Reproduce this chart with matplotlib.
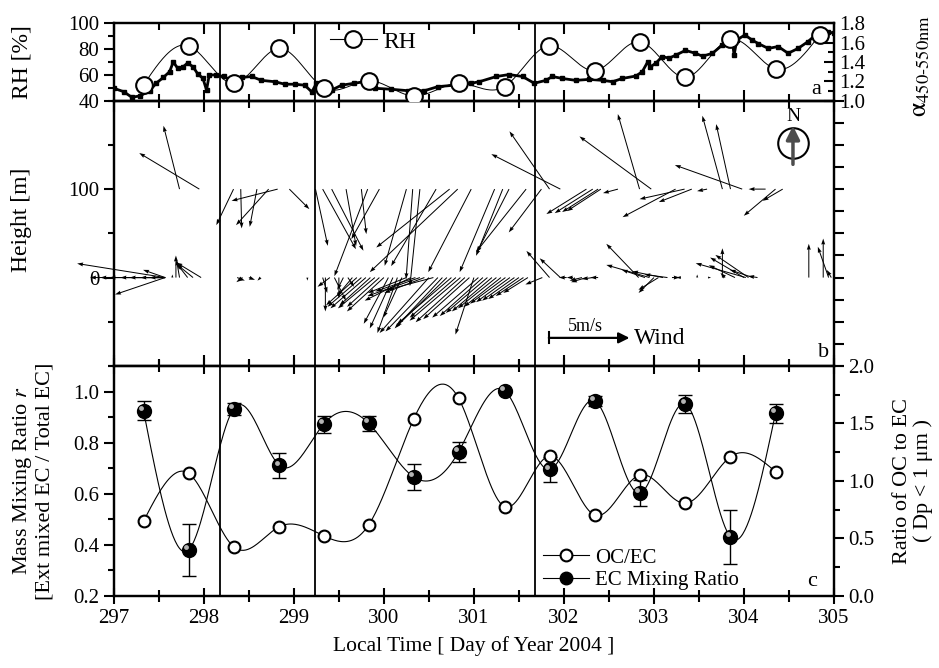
import numpy as np
import matplotlib
matplotlib.use('Agg')
import matplotlib.pyplot as plt
import matplotlib.transforms as mtransforms
from matplotlib.lines import Line2D
from matplotlib.ticker import MultipleLocator

plt.rcParams['font.family'] = ['Liberation Serif', 'DejaVu Serif']
plt.rcParams['mathtext.fontset'] = 'stix'
plt.rcParams['font.size'] = 15

# panel a: RH (circles) and Angstrom exponent (dotted trace)
rh_t = [297.33, 297.83, 298.33, 298.84, 299.33, 299.83, 300.33, 300.83,
        301.34, 301.83, 302.34, 302.84, 303.35, 303.85, 304.35, 304.84]
rh_v = [52.2, 82.6, 53.5, 80.6, 50.1, 55.5, 43.6, 53.5,
        50.9, 82.6, 63.3, 85.7, 58.1, 87.6, 64.6, 90.9]

alpha_t = [297.0, 297.11, 297.2, 297.29, 297.4, 297.47, 297.55, 297.62, 297.66, 297.71,
           297.77, 297.82, 297.88, 297.93, 297.99, 298.03, 298.06, 298.13, 298.22, 298.31,
           298.42, 298.53, 298.64, 298.79, 298.9, 299.01, 299.12, 299.2, 299.25, 299.34,
           299.42, 299.53, 299.67, 299.78, 299.86, 299.9, 300.08, 300.27, 300.45, 300.6,
           300.78, 300.97, 301.06, 301.25, 301.39, 301.54, 301.67, 301.8, 301.87, 301.98,
           302.13, 302.28, 302.43, 302.54, 302.65, 302.8, 302.87, 302.93, 302.96, 303.02,
           303.09, 303.17, 303.24, 303.35, 303.46, 303.54, 303.65, 303.76, 303.87, 303.89,
           303.92, 304.01, 304.09, 304.16, 304.27, 304.38, 304.49, 304.6, 304.71, 304.82,
           304.93, 305.0]
alpha_v = [1.128, 1.093, 1.035, 1.049, 1.103, 1.18, 1.24, 1.30, 1.40, 1.335,
           1.35, 1.39, 1.35, 1.28, 1.23, 1.11, 1.266, 1.266, 1.25, 1.21,
           1.24, 1.25, 1.21, 1.196, 1.17, 1.17, 1.16, 1.09, 1.18, 1.15,
           1.11, 1.16, 1.18, 1.196, 1.17, 1.128, 1.118, 1.103, 1.103, 1.145,
           1.16, 1.18, 1.196, 1.25, 1.27, 1.25, 1.18, 1.21, 1.25, 1.23,
           1.21, 1.22, 1.21, 1.196, 1.23, 1.255, 1.30, 1.40, 1.35, 1.387,
           1.455, 1.44, 1.47, 1.52, 1.49, 1.46, 1.49, 1.576, 1.627, 1.47,
           1.627, 1.68, 1.627, 1.59, 1.54, 1.56, 1.49, 1.54, 1.61, 1.70,
           1.71, 1.70]

# panel b: wind vectors (m/s) at 100 m and at the surface
z100_t = [297.73, 297.95, 298.33, 298.41, 298.59, 298.72, 298.82, 298.95,
          299.24, 299.32, 299.42, 299.58, 299.75, 299.82, 299.95, 300.25, 300.32,
          300.40, 300.58, 300.73, 300.82, 300.97, 301.23, 301.32, 301.39, 301.58,
          301.75, 301.84, 301.96, 302.25, 302.32, 302.38, 302.41, 302.60, 302.84,
          302.97, 303.24, 303.34, 303.42, 303.59, 303.76, 303.85, 303.98, 304.24,
          304.35, 304.43]
z100_u = [-1.04, -3.9, -1.12, 0.06, -0.47, -2.12, -2.99, 1.3,
          0.8, 2.16, 2.06, 0.65, 0.32, -2.16, -1.82, -1.41, -0.43,
          -0.65, -2.92, -4.76, -5.71, -2.79, -2.27, -1.73, -2.08, -3.25,
          -2.12, -2.6, -4.48, -2.6, -2.47, -2.34, -2.2, -0.97, -1.41,
          -4.66, -3.44, -2.92, -2.14, -0.65, -1.3, -0.93, -4.37, -1.1,
          -2.06, -1.3]
z100_v = [4.11, 2.34, -2.34, -2.55, -2.45, -2.34, -0.76, -1.3,
          -3.68, -3.9, -4.0, -3.7, -2.92, -5.65, -3.25, -4.98, -5.84,
          -6.3, -5.0, -3.79, -5.39, -5.39, -5.39, -4.33, -4.09, -4.09,
          -2.81, 3.75, 2.27, -1.62, -1.56, -1.49, -1.43, -0.26, 4.87,
          3.42, -1.82, -0.65, -0.84, -0.13, 4.76, 4.22, 1.56, 0.0,
          -1.73, -0.76]

z0_t = [297.57, 297.57, 297.57, 297.57, 297.57, 297.57, 297.57, 297.57, 297.57, 297.57,
        297.65, 297.69, 297.73, 297.82, 297.88, 297.97,
        298.37, 298.43, 298.50, 298.63, 299.15,
        299.32, 299.35, 299.40, 299.45, 299.50, 299.55, 299.60, 299.65,
        299.70, 299.75, 299.80, 299.85, 299.90, 299.95, 300.00, 300.05,
        300.10, 300.15, 300.20, 300.25, 300.30, 300.35, 300.40,
        300.45, 300.50, 300.55, 300.60, 300.65, 300.70, 300.75, 300.80, 300.85,
        300.90, 300.95, 301.00, 301.05, 301.10, 301.15, 301.20, 301.25, 301.30,
        301.35, 301.40, 301.45, 301.50, 301.55, 301.60,
        301.76, 301.84, 301.96, 302.03, 302.10, 302.20, 302.25, 302.32, 302.38,
        302.83, 302.90, 302.95, 303.00, 303.05, 303.10, 303.15, 303.20, 303.30,
        303.48, 303.60, 303.76, 303.79, 303.90, 304.00, 304.02, 304.05, 304.10, 304.15,
        304.72, 304.88, 304.94, 304.97]
z0_u = [-5.71, -4.87, -3.25, -1.43, -4.2, -3.6, -2.9, -2.3, -1.6, -1.0,
        0.0, 0.0, -0.2, -0.7, -1.04, -1.6,
        0.5, -0.4, 0.4, -0.2, 0.0,
        0.3, 0.0, -0.8, 0.75, 0.0, -0.4, 0.4, -1.0,
        -2.0, -2.2, -2.3, -2.0, -2.4, -2.1, -2.4, -1.6,
        -1.5, -1.3, -1.2, -2.5, -3.0, -2.6, -3.4,
        -2.6, -3.2, -3.0, -3.4, -3.1, -3.3, -3.5, -3.0, -3.3,
        -3.2, -3.0, -1.2, -3.0, -2.8, -2.7, -2.6, -2.5, -2.4,
        -2.3, -2.2, -2.1, -2.0, -1.8, -1.6,
        -1.1, -1.5, -1.34, -0.5, -0.4, -0.8, -1.0, -0.7, -0.5,
        -2.1, -1.5, -2.8, -1.0, -1.3, -2.0, -1.5, 0.5, -0.3,
        0.0, 0.2, 0.0, -0.3, -1.7, -2.2, -3.25, -2.15, -1.5, -0.6,
        0.0, 0.0, -0.7, -0.3]
z0_v = [0.91, 0.0, -1.1, 0.5, 0.0, 0.0, 0.0, 0.0, 0.0, 0.0,
        0.2, 1.43, 1.17, 0.9, 0.85, 0.97,
        -0.2, -0.3, -0.15, -0.2, -0.2,
        -1.0, -2.2, -0.6, -1.5, -1.35, -0.8, -0.6, -1.2,
        -1.8, -1.9, -2.0, -1.8, -2.0, -1.9, -2.2, -3.0,
        -3.3, -3.6, -2.6, -1.0, -1.5, -0.9, -1.2,
        -1.0, -3.6, -0.8, -3.5, -3.3, -3.2, -3.0, -2.6, -2.8,
        -2.9, -2.7, -3.7, -2.6, -2.5, -2.3, -2.2, -2.0, -1.9,
        -1.7, -1.6, -1.5, -1.4, -1.2, -1.0,
        -0.45, 1.73, 1.25, 0.0, 0.0, -0.2, -0.3, -0.1, 0.0,
        2.19, 0.5, 0.82, -1.0, -0.8, 0.4, 0.2, 0.0, 0.0,
        0.2, 0.0, 1.9, 0.3, 0.8, 1.3, 0.93, 1.47, 0.5, 0.1,
        2.19, 2.53, 2.0, 0.5]

# panel c: 12-h samples
day_c = [297.33, 297.83, 298.33, 298.84, 299.33, 299.83, 300.33, 300.83,
         301.34, 301.84, 302.34, 302.84, 303.35, 303.85, 304.35]
ec_r = [0.925, 0.38, 0.932, 0.711, 0.872, 0.876, 0.666, 0.764,
        1.004, 0.695, 0.964, 0.602, 0.951, 0.43, 0.915]
ec_err = [0.037, 0.10, 0.025, 0.05, 0.033, 0.03, 0.05, 0.04,
          0.0, 0.05, 0.02, 0.05, 0.035, 0.105, 0.037]
oc_ec = [0.65, 1.067, 0.429, 0.603, 0.524, 0.617, 1.537, 1.719,
         0.777, 1.217, 0.704, 1.052, 0.806, 1.211, 1.081]

breaks = [298.18, 299.23, 301.68]


def spline(x, y, n=600):
    # natural cubic spline, only used to draw the smooth connecting line
    x = np.asarray(x, float)
    y = np.asarray(y, float)
    m = len(x)
    h = np.diff(x)
    A = np.zeros((m, m))
    r = np.zeros(m)
    A[0, 0] = A[-1, -1] = 1
    for i in range(1, m - 1):
        A[i, i - 1] = h[i - 1]
        A[i, i] = 2 * (h[i - 1] + h[i])
        A[i, i + 1] = h[i]
        r[i] = 3 * ((y[i + 1] - y[i]) / h[i] - (y[i] - y[i - 1]) / h[i - 1])
    c = np.linalg.solve(A, r)
    b = (y[1:] - y[:-1]) / h - h * (2 * c[:-1] + c[1:]) / 3
    d = (c[1:] - c[:-1]) / (3 * h)
    xs = np.linspace(x[0], x[-1], n)
    k = np.clip(np.searchsorted(x, xs) - 1, 0, m - 2)
    t = xs - x[k]
    return xs, y[k] + b[k] * t + c[k] * t ** 2 + d[k] * t ** 3


fig = plt.figure(figsize=(9.39, 6.68), dpi=100)
L, W = 0.1212, 0.767
ax_a = fig.add_axes([L, 0.8493, W, 0.1158])
ax_b = fig.add_axes([L, 0.4521, W, 0.3972])
ax_c = fig.add_axes([L, 0.1078, W, 0.3443])
ax_a2 = ax_a.twinx()
ax_b2 = ax_b.twinx()
ax_c2 = ax_c.twinx()
# RH circles sit above the alpha trace
ax_a.set_zorder(ax_a2.get_zorder() + 1)
ax_a.patch.set_visible(False)

for ax in [ax_a, ax_b, ax_c, ax_a2, ax_b2, ax_c2]:
    ax.set_xlim(297, 305)
    ax.xaxis.set_major_locator(MultipleLocator(1))
    ax.xaxis.set_minor_locator(MultipleLocator(0.5))
    for s in ax.spines.values():
        s.set_linewidth(1.6)

for ax in [ax_a, ax_b, ax_c]:
    ax.tick_params(axis='x', which='both', top=True, bottom=True,
                   direction='inout' if ax is ax_c else 'in', width=1.5)
    ax.tick_params(axis='x', which='major', length=12 if ax is ax_c else 8)
    ax.tick_params(axis='x', which='minor', length=8 if ax is ax_c else 5)
    ax.tick_params(axis='y', which='both', direction='out', width=1.5)
    ax.tick_params(axis='y', which='major', length=7)
    ax.tick_params(axis='y', which='minor', length=4)
    for b in breaks:
        ax.axvline(b, color='k', lw=1.3, zorder=1)
ax_a.tick_params(axis='x', labelbottom=False)
ax_b.tick_params(axis='x', labelbottom=False)
for ax in [ax_a2, ax_b2, ax_c2]:
    ax.tick_params(axis='x', which='both', top=False, bottom=False)

# ---- panel a
ax_a.set_ylim(40, 100)
ax_a.yaxis.set_major_locator(MultipleLocator(20))
ax_a.yaxis.set_minor_locator(MultipleLocator(10))
ax_a.set_ylabel('RH [%]', fontsize=17)
ax_a.yaxis.set_label_coords(-0.113, 0.5)
ax_a2.set_ylim(1.0, 1.8)
ax_a2.yaxis.set_major_locator(MultipleLocator(0.2))
ax_a2.yaxis.set_minor_locator(MultipleLocator(0.1))
ax_a2.tick_params(axis='y', which='both', direction='in', width=1.5)
ax_a2.tick_params(axis='y', which='major', length=7)
ax_a2.tick_params(axis='y', which='minor', length=4)
ax_a2.yaxis.set_major_formatter(plt.FormatStrFormatter('%.1f'))
ax_a2.set_ylabel(r'$\mathrm{\alpha}_{450\text{-}550\mathrm{nm}}$', fontsize=19, rotation=90)
ax_a2.yaxis.set_label_coords(1.105, 0.45)

ax_a2.plot(alpha_t, alpha_v, color='k', lw=2.0, marker='s', ms=3.2, zorder=2)
xs, ys = spline(rh_t, rh_v)
ax_a.plot(xs, ys, color='k', lw=0.7, zorder=2)
ax_a.plot(rh_t, rh_v, ls='none', marker='o', ms=12, mfc='white', mec='k',
          mew=1.5, zorder=3)
ax_a.legend(handles=[Line2D([], [], color='k', lw=0.8, marker='o', ms=12,
                            mfc='white', mec='k', mew=1.5)],
            labels=['RH'], loc='center left', bbox_to_anchor=(0.27, 0.76),
            frameon=False, handlelength=2.0, handletextpad=0.3, fontsize=17)
ax_a.text(0.975, 0.14, 'a', transform=ax_a.transAxes, fontsize=16,
          ha='center', va='center')

# ---- panel b
ax_b.set_ylim(-100, 200)
ax_b.yaxis.set_minor_locator(MultipleLocator(50))
ax_b.set_yticks([0, 100])
ax_b.set_ylabel('Height [m]', fontsize=17)
ax_b.yaxis.set_label_coords(-0.113, 0.55)
ax_b2.set_ylim(-100, 200)
ax_b2.yaxis.set_major_locator(MultipleLocator(25))
ax_b2.tick_params(axis='y', direction='out', length=7, width=1.5, labelright=False)

qkw = dict(angles='uv', scale_units='inches', scale=6.49, units='dots',
           width=1.0, headwidth=4, headlength=6, headaxislength=5.5,
           color='k', clip_on=False, zorder=3)
ax_b.quiver(z100_t, [100] * len(z100_t), z100_u, z100_v, **qkw)
ax_b.quiver(z0_t, [0] * len(z0_t), z0_u, z0_v, **qkw)

# wind scale bar and north sign
ax_b.annotate('', xy=(0.716, 0.106), xytext=(0.604, 0.106), xycoords='axes fraction',
              arrowprops=dict(arrowstyle='-|>', color='k', lw=1.6,
                              mutation_scale=16, shrinkA=0, shrinkB=0))
ax_b.plot([0.604, 0.604], [0.085, 0.127], color='k', lw=1.5, transform=ax_b.transAxes)
ax_b.text(0.655, 0.15, '5m/s', transform=ax_b.transAxes, ha='center', va='center',
          fontsize=13)
ax_b.text(0.722, 0.104, 'Wind', transform=ax_b.transAxes, ha='left', va='center',
          fontsize=17)
ax_b.plot(0.943, 0.8415, 'o', ms=22, mfc='none', mec='k', mew=1.5,
          transform=ax_b.transAxes)
ax_b.annotate('', xy=(0.943, 0.905), xytext=(0.943, 0.76), xycoords='axes fraction',
              arrowprops=dict(arrowstyle='-|>', color='0.3', lw=2.5,
                              mutation_scale=20, shrinkA=0, shrinkB=0))
ax_b.text(0.943, 0.94, 'N', transform=ax_b.transAxes, ha='center', va='center',
          fontsize=14)
ax_b.text(0.985, 0.05, 'b', transform=ax_b.transAxes, ha='center', va='center',
          fontsize=16)

# ---- panel c
ax_c.set_ylim(0.2, 1.1)
ax_c.yaxis.set_major_locator(MultipleLocator(0.2))
ax_c.yaxis.set_minor_locator(MultipleLocator(0.1))
ax_c.yaxis.set_major_formatter(plt.FormatStrFormatter('%.1f'))
ax_c.set_ylabel('Mass Mixing Ratio $r$\n[Ext mixed EC / Total EC]', fontsize=16,
                linespacing=1.1)
ax_c.yaxis.set_label_coords(-0.083, 0.5)
ax_c.set_xlabel('Local Time [ Day of Year 2004 ]', fontsize=15.5, labelpad=6)
ax_c2.set_ylim(0, 2.0)
ax_c2.yaxis.set_major_locator(MultipleLocator(0.5))
ax_c2.yaxis.set_minor_locator(MultipleLocator(0.25))
ax_c2.yaxis.set_major_formatter(plt.FormatStrFormatter('%.1f'))
ax_c2.tick_params(axis='y', which='both', direction='out', width=1.5)
ax_c2.tick_params(axis='y', which='major', length=7)
ax_c2.tick_params(axis='y', which='minor', length=4)
ax_c2.set_ylabel('Ratio of OC to EC\n( Dp < 1 μm )', fontsize=16, linespacing=1.1)
ax_c2.yaxis.set_label_coords(1.082, 0.5)

xs, ys = spline(day_c, ec_r)
ax_c.plot(xs, ys, color='k', lw=0.8, zorder=2)
ax_c.errorbar(day_c, ec_r, yerr=ec_err, fmt='none', ecolor='k', elinewidth=1,
              capsize=5, capthick=1, zorder=3)
ax_c.plot(day_c, ec_r, 'o', ms=10, mfc='k', mec='k', zorder=4)
hl = ax_c.transData + mtransforms.ScaledTranslation(-2 / 72, 2 / 72, fig.dpi_scale_trans)
ax_c.plot(day_c, ec_r, 'o', ms=3.5, mfc='0.7', mec='none', transform=hl, zorder=5)

xs, ys = spline(day_c, oc_ec)
ax_c2.plot(xs, ys, color='k', lw=0.8, zorder=2)
ax_c2.plot(day_c, oc_ec, 'o', ms=8.5, mfc='white', mec='k', mew=1.5, zorder=4)

ax_c2.legend(handles=[Line2D([], [], color='k', lw=0.8, marker='o', ms=8.5,
                             mfc='white', mec='k', mew=1.5),
                      Line2D([], [], color='k', lw=0.8, marker='o', ms=9,
                             mfc='k', mec='k')],
             labels=['OC/EC', 'EC Mixing Ratio'], loc='upper left',
             bbox_to_anchor=(0.57, 0.29), frameon=False, handlelength=2.2,
             handletextpad=0.3, labelspacing=0.15, fontsize=15)
ax_c2.text(0.97, 0.065, 'c', transform=ax_c2.transAxes, fontsize=16,
           ha='center', va='center')

fig.savefig('out.png', dpi=100)
